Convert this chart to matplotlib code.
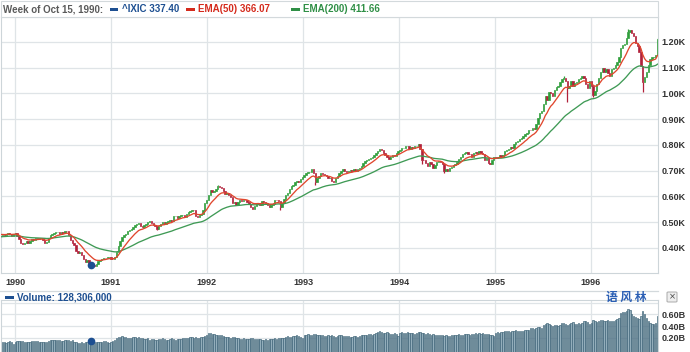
import numpy as np
import pandas as pd
import matplotlib
matplotlib.use("Agg")
import matplotlib.pyplot as plt
import matplotlib.dates as mdates
from matplotlib.patches import Rectangle, FancyBboxPatch

W, H = 690, 352

# ---------------- data (weekly, week starting Monday) ----------------
first_week = "1989-11-06"
first_open = 450

close_1989 = [452, 455, 450, 454, 458, 455, 448, 455]
close_1990 = [458, 447, 436, 421, 417,
              421, 427, 419, 428,
              434, 431, 437, 434,
              437, 439, 431, 419, 424,
              439, 449, 455, 459,
              462, 463, 455, 462,
              460, 467, 466, 449, 431,
              421, 411, 389, 381,
              383, 372, 359, 345,
              352, 340, 337.4, 333, 331,
              338, 348, 352, 356,
              362, 360, 365, 366, 358]
close_1991 = [356, 365, 385, 408,
              428, 442, 450, 455,
              466, 470, 474, 482,
              490, 492, 496, 486, 481,
              488, 493, 500, 506,
              498, 490, 486, 475,
              485, 494, 500, 494, 502,
              505, 509, 505, 524,
              526, 518, 524, 527, 528,
              522, 533, 538, 543,
              548, 547, 525, 520,
              527, 532, 548, 573, 588]
close_1992 = [607, 625, 618, 620,
              628, 640, 636, 633,
              620, 610, 612, 604, 598,
              576, 580, 566, 579,
              586, 583, 588, 585,
              580, 570, 558, 552, 565,
              572, 575, 568, 581,
              578, 575, 567, 558, 568,
              572, 588, 585, 583,
              560, 575, 590, 605,
              615, 628, 640, 645, 655,
              660, 657, 668, 677]
close_1993 = [682, 690, 695, 696,
              705, 690, 656, 670,
              680, 690, 688, 684, 680,
              670, 672, 662, 658,
              670, 680, 690, 700, 705,
              698, 695, 700, 704,
              698, 707, 700, 705,
              712, 720, 730, 738, 742,
              745, 750, 755, 762,
              770, 778, 785, 780,
              768, 760, 752, 745, 752,
              760, 758, 768, 777]
close_1994 = [780, 788, 790, 795, 798,
              785, 792, 790, 795,
              798, 803, 785, 743,
              740, 730, 720, 735,
              728, 710, 722, 735, 738,
              733, 725, 700, 706,
              698, 712, 716, 722,
              728, 735, 745, 755, 765,
              768, 772, 765, 764,
              755, 768, 772, 770, 777,
              770, 766, 740, 750,
              730, 725, 740, 752]
close_1995 = [748, 755, 760, 752, 762,
              775, 780, 785, 793,
              790, 805, 812, 817,
              822, 828, 833, 844,
              845, 860, 858, 865, 862,
              880, 905, 925, 933,
              960, 990, 975, 1005, 1002,
              990, 1012, 1025, 1030,
              1045, 1055, 1062, 1050,
              1020, 1030, 1050, 1028, 1040,
              1045, 1055, 1062, 1068,
              1062, 1035, 1020, 1048]
close_1996 = [1030, 995, 1010, 1035, 1060,
              1085, 1100, 1085, 1095,
              1080, 1068, 1095, 1100,
              1112, 1122, 1142, 1175, 1188,
              1192, 1215, 1240, 1245,
              1235, 1222, 1196, 1185,
              1160, 1108, 1045, 1065, 1085,
              1112, 1135, 1140, 1142,
              1148, 1210]

# average daily volume per week, millions
vol_1989 = [125, 130, 118, 110, 128, 132, 120, 95]
vol_1990 = [130, 145, 135, 140, 138, 125, 128, 118, 130, 135, 140, 138, 132,
            128, 122, 118, 125, 130, 145, 160, 155, 150, 158, 152, 148, 145,
            140, 155, 160, 150, 135, 150, 130, 125, 110, 105, 115, 110, 120,
            118, 125, 128.306, 120, 115, 122, 130, 125, 128, 135, 140, 130, 110, 125]
vol_1991 = [140, 155, 185, 205, 215, 220, 205, 210, 200, 195, 190, 205,
            210, 195, 215, 190, 185, 180, 175, 185, 165, 175, 170, 160, 165,
            170, 175, 185, 170, 165, 160, 175, 185, 170, 165, 175, 180, 170, 185,
            190, 195, 200, 210, 205, 195, 215, 185, 190, 205, 215, 230, 250]
vol_1992 = [285, 275, 265, 255, 250, 240, 245, 235, 220, 215, 210, 205, 200,
            215, 205, 195, 185, 180, 175, 185, 170, 180, 175, 185, 190, 170,
            175, 180, 170, 165, 160, 170, 165, 175, 170, 175, 185, 180, 190,
            195, 190, 200, 210, 220, 215, 210, 225, 230, 235, 220, 215, 200]
vol_1993 = [240, 250, 255, 245, 250, 260, 255, 245, 240, 235, 245, 230, 225,
            235, 230, 240, 220, 215, 225, 235, 240, 230, 225, 230, 220, 215,
            210, 220, 225, 215, 230, 240, 250, 245, 235, 255, 260, 250, 265,
            270, 290, 310, 300, 285, 275, 295, 270, 265, 260, 270, 255, 230]
vol_1994 = [270, 290, 285, 280, 295, 275, 285, 270, 265, 280, 290, 300, 285,
            270, 260, 275, 265, 250, 255, 245, 240, 235, 245, 240, 230, 235,
            225, 230, 235, 240, 245, 250, 255, 240, 250, 260, 255, 265, 250,
            255, 260, 270, 265, 275, 265, 270, 255, 260, 265, 250, 240, 230]
vol_1995 = [280, 290, 285, 295, 300, 310, 305, 315, 300, 320, 310, 325, 315,
            305, 315, 320, 330, 325, 335, 360, 370, 355, 365, 380, 375, 370,
            420, 440, 460, 430, 410, 400, 410, 420, 400, 420, 450, 460, 430,
            420, 440, 460, 470, 440, 430, 445, 430, 450, 480, 490, 470, 430]
vol_1996 = [450, 500, 480, 470, 490, 510, 500, 480, 490, 500, 495, 485, 490,
            510, 520, 540, 620, 640, 650, 660, 690, 670, 600, 580, 560, 540,
            520, 580, 660, 600, 540, 480, 450, 430, 440, 450, 570]

# long wicks (week start -> price)
wick_low = {"1990-10-15": 326, "1992-10-05": 547, "1994-06-20": 691,
            "1995-10-02": 965, "1996-01-08": 985, "1996-07-15": 1005,
            "1991-06-24": 468, "1993-02-15": 645, "1994-03-28": 728}
wick_high = {"1994-03-14": 803, "1996-05-20": 1249, "1992-02-10": 646,
             "1995-09-18": 1069, "1996-09-09": 1216}

year_ticks = ["1990", "1991", "1992", "1993", "1994", "1995", "1996"]
price_ticks = [400, 500, 600, 700, 800, 900, 1000, 1100, 1200]
price_labels = ["0.40K", "0.50K", "0.60K", "0.70K", "0.80K", "0.90K",
                "1.00K", "1.10K", "1.20K"]
vol_ticks = [0.2e9, 0.4e9, 0.6e9, 0.8e9]
vol_labels = ["0.20B", "0.40B", "0.60B", ""]

header_date = "Week of Oct 15, 1990:"
header_ixic = "^IXIC 337.40"
header_ema50 = "EMA(50) 366.07"
header_ema200 = "EMA(200) 411.66"
volume_text = "Volume: 128,306,000"
marked_week = "1990-10-15"

# ---------------- preparation ----------------
closes = np.array(close_1989 + close_1990 + close_1991 + close_1992 +
                  close_1993 + close_1994 + close_1995 + close_1996, float)
volumes = np.array(vol_1989 + vol_1990 + vol_1991 + vol_1992 +
                   vol_1993 + vol_1994 + vol_1995 + vol_1996, float) * 1e6
assert len(closes) == len(volumes), (len(closes), len(volumes))
dates = pd.date_range(first_week, periods=len(closes), freq="W-MON")
opens = np.r_[first_open, closes[:-1]]


def ema(values, span, seed):
    a = 2.0 / (span + 1)
    out = np.empty_like(values)
    prev = seed
    for i, v in enumerate(values):
        prev = prev + a * (v - prev)
        out[i] = prev
    return out


ema50 = ema(closes, 10, 452)    # 50 trading days ~ 10 weeks
ema200 = ema(closes, 40, 443)   # 200 trading days ~ 40 weeks

xs = mdates.date2num(dates) + 1

# ---------------- figure ----------------
fig = plt.figure(figsize=(W / 100, H / 100), dpi=100)
fig.patch.set_facecolor("white")
FONT = "Liberation Sans"


def fx(px):
    return px / W


def fy(py):
    return 1 - py / H


grid_c = "#dfe4e7"
spine_c = "#cdd5d9"
up_c = "#2f9e3b"
dn_c = "#b1203a"

ax = fig.add_axes([fx(1), fy(273), (658 - 1) / W, (273 - 17) / H])
vax = fig.add_axes([fx(1), fy(352), (658 - 1) / W, (352 - 300) / H])

base = mdates.date2num(pd.Timestamp("1990-01-01"))
dpp = (mdates.date2num(pd.Timestamp("1996-01-01")) - base) / 576.0
xlim = (base - 14 * dpp, base + 643 * dpp)

# candles
up = closes >= opens
colors = np.where(up, up_c, dn_c)
bottoms = np.minimum(opens, closes)
heights = np.maximum(np.abs(closes - opens), 1.5)
ax.bar(xs, heights, bottom=bottoms, width=5.2, color=colors,
       edgecolor=colors, linewidth=0.5, zorder=2)
for d, lo in wick_low.items():
    i = dates.get_loc(pd.Timestamp(d))
    ax.vlines(xs[i], lo, bottoms[i], color=colors[i], lw=0.9, zorder=2)
for d, hi in wick_high.items():
    i = dates.get_loc(pd.Timestamp(d))
    ax.vlines(xs[i], bottoms[i] + heights[i], hi, color=colors[i], lw=0.9, zorder=2)

ax.plot(xs, ema200, color="#3f9a55", lw=0.95, zorder=3)
ax.plot(xs, ema50, color="#e0472e", lw=0.95, zorder=3)

mi = dates.get_loc(pd.Timestamp(marked_week))
ax.plot(xs[mi], wick_low[marked_week] + 8, "o", color="#1d4f91", ms=4.5, zorder=4)

ax.set_xlim(*xlim)
ax.set_ylim(302.9, 1297)
yt = [mdates.date2num(pd.Timestamp(f"{y}-01-01")) for y in year_ticks]
ax.set_xticks(yt)
ax.set_xticklabels(year_ticks)
ax.set_yticks(price_ticks)
ax.set_yticklabels(price_labels)
ax.yaxis.tick_right()
ax.tick_params(axis="both", length=0, labelcolor="#333333")
ax.tick_params(axis="x", pad=3.5)
ax.tick_params(axis="y", pad=2.5)
for lab in ax.get_xticklabels() + ax.get_yticklabels():
    lab.set_fontfamily(FONT)
    lab.set_fontweight("bold")
    lab.set_fontsize(6.5)
ax.grid(True, color=grid_c, lw=0.9, zorder=0)
ax.set_axisbelow(True)
for s in ax.spines.values():
    s.set_color(spine_c)
    s.set_linewidth(0.8)

# volume
vbottom = -0.052e9
vax.bar(xs, volumes - vbottom, bottom=vbottom, width=5.0, color="#93aebb",
        edgecolor="#3a6074", linewidth=0.45, zorder=2)
vax.plot(xs[mi], volumes[mi] + 0.01e9, "o", color="#1d4f91", ms=4.5, zorder=4)
vax.set_xlim(*xlim)
vax.set_ylim(vbottom, 0.852e9)
vax.set_xticks(yt)
vax.set_xticklabels([])
vax.set_yticks(vol_ticks)
vax.set_yticklabels(vol_labels)
vax.yaxis.tick_right()
vax.tick_params(axis="both", length=0, labelcolor="#333333")
vax.tick_params(axis="y", pad=2.5)
for lab in vax.get_yticklabels():
    lab.set_fontfamily(FONT)
    lab.set_fontweight("bold")
    lab.set_fontsize(6.5)
vax.grid(True, color=grid_c, lw=0.9, zorder=0)
vax.set_axisbelow(True)
for s in vax.spines.values():
    s.set_color(spine_c)
    s.set_linewidth(0.8)
vax.spines["bottom"].set_visible(False)

# header box
fig.patches.append(Rectangle((fx(1), fy(17)), (657) / W, 15.5 / H,
                             transform=fig.transFigure, facecolor="white",
                             edgecolor="#d3d9dc", lw=0.8))
ty = fy(9.5)
tkw = dict(fontfamily=FONT, fontweight="bold", fontsize=7, va="center", ha="left")
fig.text(fx(3), ty, header_date, color="#5a5a5a", **tkw)
for x0, c, txt in [(110, "#1d4f91", header_ixic),
                   (186, "#d42a1c", header_ema50),
                   (291, "#2f8f46", header_ema200)]:
    fig.patches.append(Rectangle((fx(x0), fy(11)), 8.5 / W, 3.2 / H,
                                 transform=fig.transFigure, facecolor=c, lw=0))
    fig.text(fx(x0 + 12), ty, txt, color=c, **tkw)

# separator lines for volume strip
fig.add_artist(plt.Line2D([fx(0), fx(658)], [fy(290.5), fy(290.5)],
                          transform=fig.transFigure, color="#d3d9dc", lw=0.9))
fig.patches.append(Rectangle((fx(5), fy(299)), 8.5 / W, 3.2 / H,
                             transform=fig.transFigure, facecolor="#1d4f91", lw=0))
fig.text(fx(17), fy(297.5), volume_text, color="#1d4f91", **tkw)

fig.text(fx(626), fy(297), "语 风 林", color="#2b5fb4", fontsize=8.5,
         fontweight="bold", family=["Noto Sans CJK SC", "DejaVu Sans"],
         ha="center", va="center")
fig.patches.append(FancyBboxPatch((fx(667), fy(302)), 10 / W, 10 / H,
                                  boxstyle="round,pad=0,rounding_size=0.002",
                                  transform=fig.transFigure,
                                  facecolor="#eeeeee", edgecolor="#aaaaaa", lw=0.7))
fig.text(fx(672), fy(297), "×", color="#444444", fontsize=6,
         ha="center", va="center", fontfamily="DejaVu Sans")

fig.savefig("out.png", dpi=100)
